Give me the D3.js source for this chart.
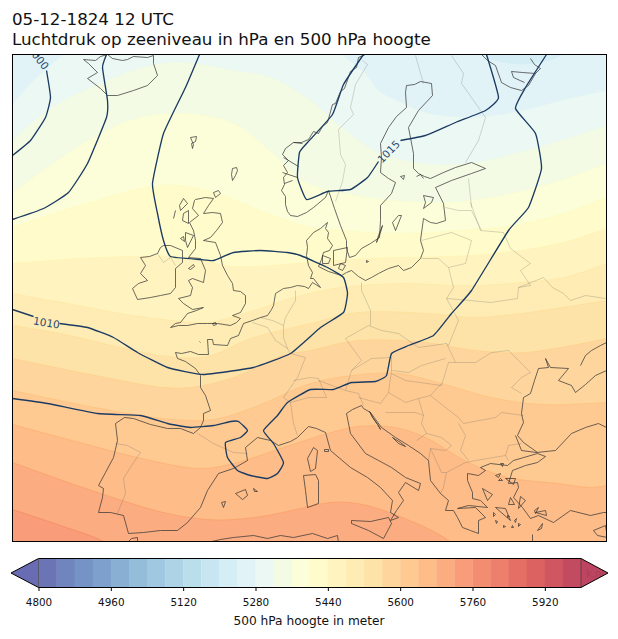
<!DOCTYPE html>
<html>
<head>
<meta charset="utf-8">
<script src="https://cdn.jsdelivr.net/npm/d3@7"></script>
<style>
body { margin:0; background:#fff; }
text { font-family:"DejaVu Sans",sans-serif; fill:#111; }
</style>
</head>
<body>
<svg id="chart" width="618" height="639"></svg>
<script>
// values, in grid units of the map (x east, y south)
var titleLines = ["05-12-1824 12 UTC", "Luchtdruk op zeeniveau in hPa en 500 hPa hoogte"];
var barLabel = "500 hPa hoogte in meter";
var barLevels = d3.range(4800, 6001, 40);
var barTicks = [4800, 4960, 5120, 5280, 5440, 5600, 5760, 5920];

// 500 hPa height contours
var h5240 = [[470,40],[483,55],[508,63],[541,62],[561,55],[580,40]];
var h5280 = [[12,104],[30,83],[50,65],[63,54],[80,42],[200,15],[300,20],[341,54],[365,73],[378,90],[401,102],[425,112],[451,116],[485,116],[521,110],[561,100],[606,90]];
var h5320 = [[12,140],[50,108],[100,83],[150,65],[183,62],[233,70],[270,77],[310,100],[341,127],[378,152],[421,163],[470,163],[515,153],[568,138],[606,125]];
var h5360 = [[12,192],[50,165],[83,143],[130,120],[177,113],[233,123],[270,151],[303,181],[341,192],[391,200],[451,202],[470,200],[513,193],[560,180],[606,163]];
var h5400 = [[12,227],[60,211],[100,199],[157,185],[207,190],[267,213],[310,227],[341,230],[408,233],[470,229],[513,225],[563,213],[606,197]];
var h5440 = [[12,263],[100,257],[187,257],[233,266],[310,262],[368,258],[470,255],[520,250],[563,242],[606,228]];
var h5480 = [[12,293],[67,303],[133,315],[173,320],[207,322],[253,310],[293,297],[340,287],[400,283],[470,285],[520,282],[563,277],[606,263]];
var h5520 = [[12,325],[60,333],[120,347],[167,356],[207,356],[250,338],[310,323],[358,312],[441,314],[470,317],[520,313],[606,300]];
var h5560 = [[12,358],[100,376],[163,387],[190,387],[233,377],[283,355],[310,350],[358,340],[425,342],[475,350],[525,352],[606,338]];
var h5600 = [[12,390],[100,408],[173,419],[213,419],[253,407],[310,383],[351,375],[398,373],[441,383],[491,397],[541,404],[606,402]];
var h5640 = [[12,424],[83,443],[150,460],[200,468],[233,463],[283,447],[327,433],[357,426],[395,427],[425,437],[468,462],[508,477],[558,483],[591,487],[606,485]];
var h5680 = [[12,462],[100,493],[167,513],[207,519],[233,519],[267,515],[300,508],[330,502],[357,503],[383,510],[425,527],[448,540],[470,560],[606,640]];
var h5720 = [[12,509],[60,525],[103,541],[130,560],[606,800]];

// sea level pressure isobars
var p1000 = [[46,70],[50,97],[45,117],[30,140],[12,155]];
var p1000top = [[35,50],[38,56]];
var p1005 = [[12,219],[43,208],[68,192],[87,163],[106,117],[107,100],[102,67],[106,54]];
var p1010a = [[199,54],[185,87],[163,133],[152,183],[157,213],[163,240],[170,256],[200,259],[213,260],[233,252],[260,250],[287,252],[300,255],[327,267],[343,277],[347,293],[343,312],[320,327],[290,353],[253,367],[203,374],[167,367],[137,352],[113,337],[87,327],[59,323]];
var p1010b = [[33,316],[12,309]];
var p1010c = [[12,398],[47,403],[97,413],[140,415],[167,423],[190,427],[213,425],[230,421],[238,421],[247,430],[240,437],[225,442],[227,457],[237,470],[250,475],[267,478],[277,473],[283,462],[273,443],[263,430],[277,415],[287,402],[310,389],[333,389],[351,382],[375,381],[386,375],[391,353],[408,345],[433,335],[451,313],[471,290],[508,230],[528,207],[541,168],[535,133],[515,108],[525,87],[546,54]];
var p1015a = [[363,54],[343,84],[332,114],[307,142],[299,152],[297,177],[306,199],[327,191],[350,189],[367,177],[378,161]];
var p1015b = [[400,140],[425,135],[455,122],[485,110],[498,97],[486,54]];
var isoLabels = [["1000",38,57,52],["1010",46,322,9],["1015",388,151,-45]];

// coast lines, main chain from Brittany round the Baltic to Norway
var coastMain = [[175,352],[181,353],[190,351],[198,354],[208,354],[207,339],[212,339],[213,344],[227,345],[230,338],[238,335],[243,323],[252,320],[260,317],[267,315],[271,309],[273,305],[275,293],[283,288],[290,287],[297,285],[304,286],[308,288],[312,282],[320,287],[313,278],[310,278],[312,272],[308,265],[306,255],[307,247],[306,240],[313,232],[320,228],[327,222],[325,228],[328,232],[327,238],[332,245],[329,250],[323,252],[321,259],[318,266],[328,271],[341,275],[346,272],[351,270],[358,276],[365,280],[371,277],[378,273],[388,268],[398,265],[403,270],[411,267],[420,258],[423,250],[420,240],[423,218],[430,222],[436,223],[445,220],[443,203],[435,187],[451,180],[471,173],[485,168],[471,162],[455,167],[443,172],[430,178],[424,176],[418,173],[413,168],[413,153],[408,127],[418,110],[432,95],[431,83],[420,81],[414,84],[406,85],[405,92],[406,107],[396,116],[388,127],[380,143],[381,157],[380,172],[388,178],[395,182],[391,193],[380,205],[380,220],[379,237],[370,243],[361,248],[355,255],[349,257],[346,248],[346,240],[340,225],[334,208],[328,190],[325,197],[313,207],[306,212],[297,216],[290,215],[287,211],[285,204],[285,196],[281,190],[284,184],[283,177],[287,172],[283,165],[288,160],[282,154],[285,148],[293,142],[301,142],[308,139],[313,131],[318,133],[322,126],[327,122],[332,104],[335,103],[340,91],[344,88],[350,71],[356,67],[358,57],[365,54]];
var coastNorth = [[481,54],[487,60],[495,65],[501,82],[510,87],[521,90],[528,85],[535,73],[522,72],[511,71],[513,77],[524,82]];
var coastKola = [[530,58],[534,64],[540,68],[535,73]];
var iceland = [[107,54],[112,58],[122,60],[127,59],[133,56],[147,57],[153,55],[153,63],[157,75],[147,85],[133,90],[117,95],[107,95],[100,88],[87,78],[97,72],[88,63],[83,59],[95,60],[100,56],[107,54]];
var faroe = [[190,137],[196,136],[195,141],[191,143],[192,148],[193,144],[190,137]];
var shetland = [[236,167],[232,168],[231,174],[232,180],[235,175],[237,170],[236,167]];
var orkney = [[213,192],[218,190],[220,193],[215,197],[213,192]];
var britain = [[195,199],[205,197],[213,198],[208,205],[203,213],[212,212],[220,213],[222,222],[216,230],[210,237],[203,240],[215,242],[220,255],[222,265],[227,275],[232,283],[233,290],[240,291],[245,295],[245,303],[240,312],[232,315],[240,318],[236,322],[230,325],[217,323],[207,323],[197,323],[187,325],[178,325],[170,327],[175,323],[180,322],[187,313],[196,310],[203,307],[192,309],[183,303],[178,298],[190,295],[192,287],[188,280],[192,278],[203,282],[205,270],[200,258],[188,257],[195,248],[195,240],[193,230],[189,222],[198,215],[192,208],[194,200],[195,199]];
var ireland = [[140,257],[149,256],[157,253],[160,247],[163,245],[170,245],[182,250],[182,262],[175,268],[175,287],[170,293],[160,295],[150,297],[137,299],[132,288],[138,283],[147,280],[140,273],[145,265],[140,257]];
var hebrides1 = [[183,198],[187,203],[180,210],[179,205],[183,198]];
var hebrides2 = [[183,213],[188,210],[188,223],[182,220],[183,213]];
var hebrides3 = [[175,210],[173,218]];
var hebrides4 = [[185,232],[193,235],[187,247],[185,240],[185,232]];
var hebrides5 = [[180,238],[183,236],[184,241],[180,238]];
var isleMan = [[188,268],[193,264],[194,266],[190,269],[188,268]];
var isleWight = [[212,323],[215,322],[216,324],[213,325],[212,323]];
var channelIs = [[199,341],[200,342]];
var denmark1 = [[333,250],[347,247],[345,262],[333,265],[333,250]];
var denmark2 = [[322,255],[330,258],[328,263],[322,263],[322,255]];
var denmark3 = [[340,263],[345,265],[342,270],[338,268],[340,263]];
var gotland = [[398,215],[401,215],[395,230],[392,222],[398,215]];
var oland = [[382,225],[378,235],[376,242],[380,232],[382,225]];
var saaremaa = [[423,195],[433,197],[431,202],[423,208],[425,202],[423,195]];
var aland = [[400,176],[404,175],[403,179],[400,176]];
var bornholm = [[366,260],[368,261],[366,262],[366,260]];
var hiiumaa = [[416,176],[420,174],[423,178]];
var coastWest = [[175,352],[177,358],[185,361],[195,368],[200,375],[200,387],[205,395],[210,410],[203,413],[203,420],[200,427],[193,433],[180,428],[167,428],[150,424],[133,418],[124,417],[115,423],[117,440],[113,457],[105,472],[98,485],[103,488],[102,497],[98,512],[110,512],[123,515],[128,533],[143,532],[160,530],[177,530],[187,522],[200,507],[207,490],[218,473],[233,468],[247,460],[245,447],[257,437],[270,440],[278,445],[290,441],[297,437],[308,426],[316,428],[325,432],[330,450],[350,467],[367,477],[380,487],[392,500],[390,512],[398,517],[390,520],[396,510],[403,500],[398,492],[405,482],[418,490],[420,483],[405,477],[391,467],[378,460],[365,453],[350,433],[346,413],[352,409],[361,405],[363,408],[370,412],[381,427],[395,437],[408,445],[420,453],[428,460],[430,480],[440,493],[448,500],[445,510],[453,510],[457,517],[462,527],[470,530],[478,533],[478,520],[485,517],[475,507],[457,508],[468,505],[487,507],[480,500],[472,498],[472,492],[467,480],[467,473],[478,475],[485,470],[480,467],[490,463],[507,465],[513,460],[537,453],[545,456],[537,462],[525,465],[512,470],[508,483],[517,482],[518,487],[513,497],[522,507],[530,518],[538,515],[553,522],[570,510],[590,515],[603,512],[608,512]];
var blackSeaWest = [[537,452],[523,442],[517,435],[523,422],[521,413],[523,397],[530,393],[534,380],[538,368],[548,367],[545,358],[550,367],[568,368],[558,380],[571,385],[575,392],[585,384],[595,375],[606,370]];
var blackSeaSouth = [[515,435],[521,450],[536,452],[555,450],[571,433],[585,427],[598,423],[606,427]];
var azov = [[580,365],[585,355],[591,350],[600,345],[606,342]];
var sicily = [[351,520],[370,521],[388,517],[391,523],[383,538],[368,530],[351,523],[351,520]];
var sardinia = [[303,475],[315,474],[318,480],[318,503],[307,507],[305,490],[303,475]];
var corsica = [[313,447],[317,450],[315,468],[310,471],[307,458],[313,447]];
var mallorca = [[235,493],[245,489],[247,495],[242,499],[235,493]];
var menorca = [[253,488],[257,491],[254,491],[253,488]];
var ibiza = [[221,502],[225,501],[223,507],[221,502]];
var elba = [[324,449],[328,449],[328,451],[324,451],[324,449]];
var africa = [[128,541],[131,538],[137,537],[137,542]];
var africa2 = [[207,542],[220,539],[233,537],[253,535],[267,538],[280,535],[293,537],[312,533],[327,538],[337,535],[338,542]];
var crete = [[537,530],[542,523],[541,528],[537,530]];
var anatolia2 = [[593,530],[605,525],[607,537],[597,535],[593,530]];
var dalmatia = [[369,411],[373,418],[378,425],[380,429],[377,424],[372,417],[369,411]];
var dalmatia2 = [[392,437],[400,442],[405,446],[398,443],[392,437]];
var fjord1 = [[293,142],[302,143]];
var fjord2 = [[283,157],[298,166]];
var fjord3 = [[282,172],[297,177]];
var fjord4 = [[284,183],[292,180]];
var aegean1 = [[505,478],[515,478],[513,484],[505,478]];
var aegean2 = [[482,488],[492,494],[487,500],[482,488]];
var aegean3 = [[498,480],[500,478],[502,480],[498,480]];
var aegean4 = [[508,504],[514,504],[510,497],[508,504]];
var aegean5 = [[495,507],[505,508],[510,520],[495,507]];
var aegean6 = [[520,496],[525,500],[518,508],[520,496]];
var aegean7 = [[534,510],[538,507],[535,513],[534,510]];
var aegean8 = [[514,520],[516,518],[515,522],[514,520]];
var aegean9 = [[493,512],[495,514],[493,516],[493,512]];
var aegean10 = [[495,520],[497,521],[496,523],[495,520]];
var aegean11 = [[503,525],[505,526],[503,527],[503,525]];
var aegean12 = [[507,515],[509,516],[507,517],[507,515]];
var aegean13 = [[512,525],[513,527],[511,527],[512,525]];
var aegean14 = [[518,523],[520,524],[518,526],[518,523]];
var aegean15 = [[500,463],[503,463],[502,466],[500,463]];
var aegean16 = [[495,475],[500,473],[498,477],[495,475]];
var lesvos = [[535,512],[545,510],[546,515],[535,512]];
var crete2 = [[532,534],[532,541]];
var coastLists = [coastMain, coastNorth, coastKola, iceland, faroe, shetland, orkney, britain, ireland, hebrides1, hebrides2, hebrides3, hebrides4, hebrides5, isleMan, isleWight, channelIs, denmark1, denmark2, denmark3, gotland, oland, saaremaa, aland, bornholm, hiiumaa, coastWest, blackSeaWest, blackSeaSouth, azov, sicily, sardinia, corsica, mallorca, menorca, ibiza, elba, africa, africa2, crete, anatolia2, dalmatia, dalmatia2, fjord1, fjord2, fjord3, fjord4, aegean1, aegean2, aegean3, aegean4, aegean5, aegean6, aegean7, aegean8, aegean9, aegean10, aegean11, aegean12, aegean13, aegean14, aegean15, aegean16, lesvos, crete2];

// country borders
var bPortugal = [[115,443],[127,445],[140,452],[133,462],[123,478],[125,493],[117,513]];
var bPyrenees = [[197,433],[213,443],[233,452],[247,453]];
var bUlster = [[157,253],[163,262],[170,257],[175,265]];
var bFranceN = [[252,322],[267,327],[275,340],[287,348],[290,353],[305,357],[297,377],[283,397],[290,402],[293,423],[297,435]];
var bNether = [[260,317],[272,320],[283,325],[283,337],[287,348]];
var bGermanyW = [[295,290],[295,300],[285,317],[283,325]];
var bSwiss = [[293,380],[310,377],[318,378],[326,397],[308,397],[290,402]];
var bAlps = [[318,380],[345,390],[358,393],[363,405]];
var bAustria = [[351,370],[371,358],[391,357],[391,370],[408,372],[421,365],[445,358]];
var bCzech = [[345,338],[368,325],[381,330],[398,333],[418,347],[446,343],[455,362]];
var bBavaria = [[345,338],[361,360],[351,370],[345,390]];
var bOder = [[361,282],[361,290],[370,310],[370,325]];
var bKalin = [[421,258],[438,258]];
var bLith = [[421,240],[451,232],[471,240],[465,263],[448,267],[453,287],[446,298],[458,320],[448,345],[446,343]];
var bBelarus = [[438,258],[448,267]];
var bUkraine = [[470,300],[490,302],[517,298],[518,287],[543,277],[552,287],[563,293],[570,300],[585,295],[605,298]];
var bUkraine2 = [[446,298],[470,300]];
var bLatvia = [[470,202],[480,230],[503,232],[510,248],[530,263],[520,270],[530,285],[518,287]];
var bEstonia = [[445,207],[458,210],[471,210],[481,230]];
var bEstRus = [[468,178],[471,207]];
var bFinland = [[451,55],[463,73],[461,83],[471,97],[485,117],[478,140],[465,162]];
var bFinSwe = [[415,55],[423,83]];
var bNorway = [[362,60],[367,64],[355,84],[350,107],[353,114],[338,129],[340,154],[345,164],[342,181],[335,201]];
var bHungary = [[391,373],[405,380],[441,385],[448,362],[475,362],[491,352],[508,350],[518,360],[530,372],[521,377],[511,387],[521,393]];
var bSerbia = [[441,383],[430,395],[445,407],[458,417],[463,423],[495,417],[501,412],[523,415]];
var bCroatia = [[388,392],[380,403],[358,397]];
var bCroatia2 = [[388,392],[405,402],[418,398],[430,395]];
var bBosnia = [[385,412],[415,412],[423,415],[421,423],[426,433],[416,440]];
var bBosnia2 = [[418,398],[423,415]];
var bBalkan = [[426,433],[441,437],[451,445],[445,450],[430,448],[428,460]];
var bAlbania = [[430,448],[441,472],[446,472],[443,487],[440,493]];
var bGreece = [[446,472],[465,462],[475,460],[505,455],[508,460]];
var bBulgaria = [[458,423],[465,435],[460,450],[468,460]];
var bBulgaria2 = [[505,455],[508,445],[521,443]];
var bAlps2 = [[391,370],[388,392]];
var borderLists = [bPortugal, bPyrenees, bUlster, bFranceN, bNether, bGermanyW, bSwiss, bAlps, bAustria, bCzech, bBavaria, bOder, bKalin, bLith, bBelarus, bUkraine, bUkraine2, bLatvia, bEstonia, bEstRus, bFinland, bFinSwe, bNorway, bHungary, bSerbia, bCroatia, bCroatia2, bBosnia, bBosnia2, bBalkan, bAlbania, bGreece, bBulgaria, bBulgaria2, bAlps2];

var svg = d3.select("#chart");

var mapLeft = 12.5, mapRight = 606.5, mapTop = 54.5, mapBottom = 541.5;
var barLeft = 38.5, barRight = 581, barTop = 558.5, barBottom = 587.5;

var x = d3.scaleLinear().domain([12, 606]).range([mapLeft, mapRight]);
var y = d3.scaleLinear().domain([54, 541]).range([mapTop, mapBottom]);
var barX = d3.scaleLinear().domain([4800, 6000]).range([barLeft, barRight]);

// matplotlib RdYlBu_r with alpha on white
var stops = ["#313695","#4575b4","#74add1","#abd9e9","#e0f3f8","#ffffbf","#fee090","#fdae61","#f46d43","#d73027","#a50026"];
var cmap = d3.scaleLinear().domain(d3.range(0, 1.01, 0.1)).range(stops);
function rawColor(level) { return cmap((level - 4800 + 20) / 1200); }
function flat(c) {
    return d3.interpolateRgb("#fff", c)(0.73);
}
function bandColor(level) { return flat(rawColor(level)); }

svg.append("defs").append("clipPath").attr("id", "map")
    .append("rect")
    .attr("x", mapLeft).attr("y", mapTop)
    .attr("width", mapRight - mapLeft).attr("height", mapBottom - mapTop);

var map = svg.append("g").attr("clip-path", "url(#map)");

map.append("rect")
    .attr("x", mapLeft).attr("y", mapTop)
    .attr("width", mapRight - mapLeft).attr("height", mapBottom - mapTop)
    .attr("fill", bandColor(5240));

var smooth = d3.curveCatmullRom.alpha(0.5);

map.append("path")
    .attr("d", d3.area().x(function(d){ return x(d[0]); }).y0(mapTop - 30).y1(function(d){ return y(d[1]); }).curve(smooth)(h5240))
    .attr("fill", bandColor(5200));

var heightBands = [[5280,h5280],[5320,h5320],[5360,h5360],[5400,h5400],[5440,h5440],[5480,h5480],[5520,h5520],[5560,h5560],[5600,h5600],[5640,h5640],[5680,h5680],[5720,h5720]];

heightBands.forEach(function(b){
    map.append("path")
        .attr("d", d3.area().x(function(d){ return x(d[0]); }).y0(mapBottom + 400).y1(function(d){ return y(d[1]); }).curve(smooth)(b[1]))
        .attr("fill", bandColor(b[0]));
    map.append("path")
        .attr("d", d3.line().x(function(d){ return x(d[0]); }).y(function(d){ return y(d[1]); }).curve(smooth)(b[1]))
        .attr("fill", "none")
        .attr("stroke", rawColor(b[0]))
        .attr("stroke-opacity", 0.45)
        .attr("stroke-width", 0.9);
});

var path = d3.line().x(function(d){ return x(d[0]); }).y(function(d){ return y(d[1]); });

map.selectAll("path.border").data(borderLists).enter().append("path")
    .attr("class", "border")
    .attr("d", path)
    .attr("fill", "none")
    .attr("stroke", "#555")
    .attr("stroke-opacity", 0.33)
    .attr("stroke-width", 0.7);

map.selectAll("path.coast").data(coastLists).enter().append("path")
    .attr("class", "coast")
    .attr("d", path)
    .attr("fill", "none")
    .attr("stroke", "#333")
    .attr("stroke-opacity", 0.85)
    .attr("stroke-width", 0.85);

// the isobars have sharp bends, so keep the curve tight
var isoLine = d3.line().x(function(d){ return x(d[0]); }).y(function(d){ return y(d[1]); }).curve(d3.curveCardinal.tension(0.6));

map.selectAll("path.iso").data([p1000, p1000top, p1005, p1010a, p1010b, p1010c, p1015a, p1015b]).enter().append("path")
    .attr("class", "iso")
    .attr("d", isoLine)
    .attr("fill", "none")
    .attr("stroke", "#1c3b63")
    .attr("stroke-width", 1.35);

map.selectAll("text.iso").data(isoLabels).enter().append("text")
    .attr("class", "iso")
    .attr("text-anchor", "middle")
    .attr("dominant-baseline", "central")
    .attr("font-size", 10.5)
    .attr("transform", function(d){ return "translate(" + x(d[1]) + "," + y(d[2]) + ") rotate(" + d[3] + ")"; })
    .style("fill", "#2a4a70")
    .text(function(d){ return d[0]; });

svg.append("rect")
    .attr("x", mapLeft).attr("y", mapTop)
    .attr("width", mapRight - mapLeft).attr("height", mapBottom - mapTop)
    .attr("fill", "none").attr("stroke", "#000").attr("stroke-width", 1);

// title
svg.selectAll("text.title").data(titleLines).enter().append("text")
    .attr("class", "title")
    .attr("x", 12)
    .attr("y", function(d, i){ return 25 + i * 20; })
    .attr("font-size", 16.7)
    .text(function(d){ return d; });

// colour bar
var bar = svg.append("g");
var cells = barLevels.slice(0, -1);

bar.selectAll("rect").data(cells).enter().append("rect")
    .attr("x", function(d){ return barX(d); })
    .attr("y", barTop)
    .attr("width", function(d){ return barX(d + 40) - barX(d) + 0.3; })
    .attr("height", barBottom - barTop)
    .attr("fill", function(d){ return bandColor(d); });

var tipLeft = 11, tipRight = 608, barMid = (barTop + barBottom) / 2;
bar.append("path")
    .attr("d", d3.line()([[barLeft, barTop], [tipLeft, barMid], [barLeft, barBottom]]))
    .attr("fill", flat("#313695"));
bar.append("path")
    .attr("d", d3.line()([[barRight, barTop], [tipRight, barMid], [barRight, barBottom]]))
    .attr("fill", flat("#a50026"));
bar.append("path")
    .attr("d", d3.line()([[barLeft, barTop], [barRight, barTop], [tipRight, barMid], [barRight, barBottom], [barLeft, barBottom], [tipLeft, barMid]]) + "Z")
    .attr("fill", "none").attr("stroke", "#000").attr("stroke-width", 1);
bar.selectAll("line.edge").data([barLeft, barRight]).enter().append("line")
    .attr("class", "edge")
    .attr("x1", function(d){ return d; }).attr("x2", function(d){ return d; })
    .attr("y1", barTop).attr("y2", barBottom)
    .attr("stroke", "#333").attr("stroke-opacity", 0.6);

// faint mark that shows through the right tip of the bar
svg.append("text")
    .attr("x", 604).attr("y", 577)
    .attr("text-anchor", "end")
    .attr("font-size", 10)
    .attr("opacity", 0.12)
    .text("k.nl");

var axis = d3.axisBottom(barX).tickValues(barTicks).tickFormat(d3.format("d")).tickSize(3.5).tickPadding(8);
var axisG = svg.append("g").attr("transform", "translate(0," + barBottom + ")").call(axis);
axisG.select(".domain").remove();
axisG.selectAll("text").attr("font-size", 10.4).style("font-family", '"DejaVu Sans",sans-serif').style("fill", "#111");

svg.append("text")
    .attr("x", 309)
    .attr("y", 625)
    .attr("text-anchor", "middle")
    .attr("font-size", 12.2)
    .text(barLabel);
</script>
</body>
</html>
